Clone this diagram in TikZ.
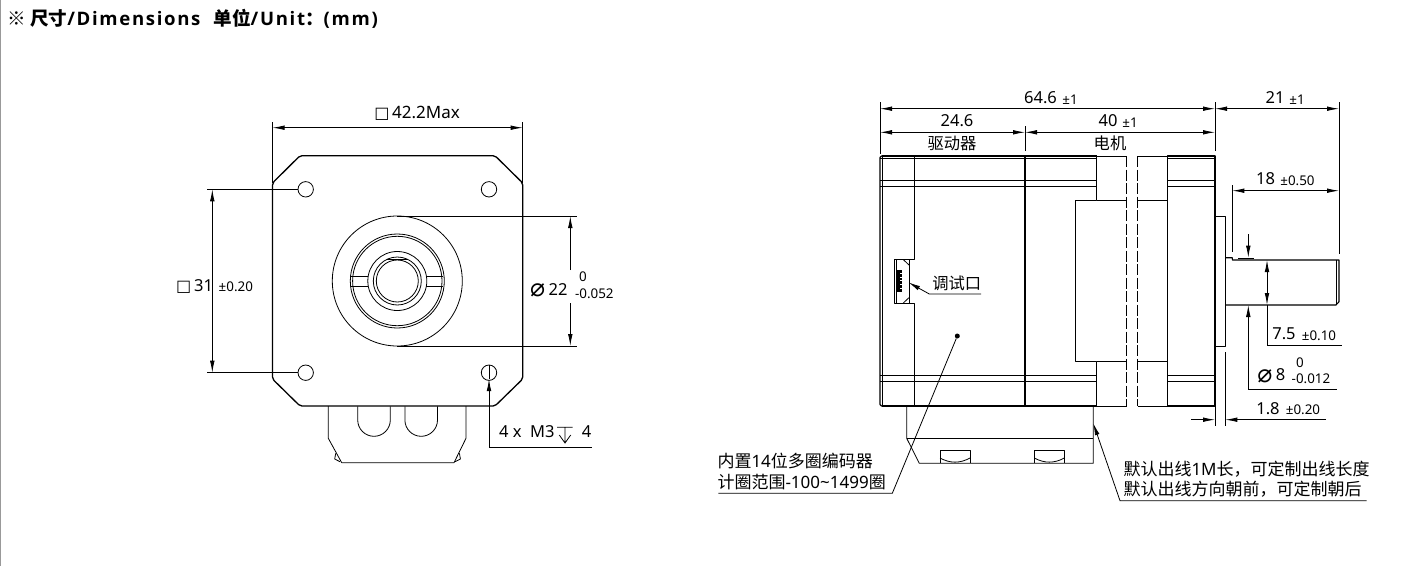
\documentclass[tikz,border=0pt]{standalone}
\usepackage{fontspec}
\setmainfont{Noto Sans}
\newfontfamily\cjk{Noto Sans CJK SC}
\newfontfamily\sym{DejaVu Sans}
\newfontfamily\head[LetterSpace=9]{Open Sans}
\usetikzlibrary{arrows.meta,calc}
\newcommand\lat[1]{{\rmfamily #1}}
\begin{document}
\begin{tikzpicture}[
		x=1pt,y=-1pt,
		part/.style={line width=1.1pt,line join=round},
		thin part/.style={line width=0.8pt,line join=round},
		dimline/.style={line width=0.8pt},
		dimboth/.style={dimline,{Latex[length=12pt,width=4.6pt]}-{Latex[length=12pt,width=4.6pt]}},
		dimend/.style={dimline,-{Latex[length=12pt,width=4.6pt]}},
		every node/.style={inner sep=0pt,font=\fontsize{16.5pt}{18pt}\selectfont},
		tol/.style={font=\fontsize{13.4pt}{15pt}\selectfont},
		han/.style={font=\fontsize{16.3pt}{18pt}\selectfont\cjk},
		note/.style={anchor=west,font=\fontsize{17pt}{18pt}\selectfont\cjk},
		square/.style={font=\fontsize{16pt}{18pt}\selectfont\sym},
		phi/.style={font=\fontsize{25pt}{26pt}\selectfont\sym}
		]
		\useasboundingbox (0,0) rectangle (1409,566);
		\draw[gray!80,line width=1.6pt] (0.5,0) -- (0.5,566);
		% Title
		\node[anchor=west,font=\fontsize{18.6pt}{20pt}\selectfont\head\bfseries] (title) at (7,19) {{\cjk ※ 尺寸}/Dimensions\ \ {\cjk 单位}/Unit{\cjk ：}(mm)};

		% Front view
		\draw[line width=1.3pt,line join=round,rounded corners=2pt] (272.5,183) -- (300,155.7) -- (495,155.7) -- (522.7,183) -- (522.7,379) -- (495,406) -- (300,406) -- (272.5,379) -- cycle;
		\foreach \hx/\hy/\hname in {305.7/189.3/holeA,489/189.3/holeB,305.7/372.7/holeC,489/372.7/holeD}
			\node[draw,circle,line width=0.8pt,minimum size=15.4pt] (\hname) at (\hx,\hy) {};
		\coordinate (hub) at (397.3,281);
		\foreach \r in {65,47,44.7,29.5,24,21}
			\draw[thin part] (hub) circle (\r);
		\draw[thin part] (387,259.5) -- (407.6,259.5);
		\foreach \s in {-1,1} {
			\draw[thin part] ($(hub)+(\s*29,-5)$) -- ($(hub)+(\s*46,-5)$);
			\draw[thin part] ($(hub)+(\s*29,5)$) -- ($(hub)+(\s*46,5)$);
		}
		% Front view, connector
		\draw[thin part] (328.3,406) -- (328.3,438.3) -- (341.7,462.7) -- (454,462.7) -- (466,438.3) -- (466,406);
		\draw[thin part] (335.7,453.3) -- (334.7,459) -- (340,461.7);
		\draw[thin part] (459.4,453.3) -- (460.4,459) -- (455.1,461.7);
		\foreach \ux in {357.7,404.9}
			\draw[thin part] (\ux,406.3) -- (\ux,420) arc[start angle=180,end angle=0,radius=16.3] -- ++(0,-13.7);

		% Front view, dimensions
		\coordinate (wL) at (272.5,127.7);
		\coordinate (wR) at (522.7,127.7);
		\draw[dimline] (272.5,122) -- (272.5,183);
		\draw[dimline] (522.7,122) -- (522.7,183);
		\draw[dimboth] (wL) -- (wR);
		\node[square] (sqW) at (382,114.5) {□};
		\node[anchor=west,font=\fontsize{17pt}{18pt}\selectfont] (wText) at (392,112.5) {42.2Max};

		\coordinate (pitchT) at (212.3,189.3);
		\coordinate (pitchB) at (212.3,372.7);
		\draw[dimline] (207,189.3) -- (holeA.west);
		\draw[dimline] (207,372.7) -- (holeC.west);
		\draw[dimboth] (pitchT) -- (pitchB);
		\node[square] (sqP) at (183.7,287.5) {□};
		\node[anchor=west] (pitchText) at (194,285.5) {31};
		\node[tol,anchor=west] (pitchTol) at (218.5,287) {±0.20};

		\coordinate (dT) at (570.3,216);
		\coordinate (dB) at (570.3,346);
		\coordinate (dGapT) at (570.3,270);
		\coordinate (dGapB) at (570.3,303);
		\draw[dimline] (397.3,216) -- (576.7,216);
		\draw[dimline] (397.3,346) -- (576.7,346);
		\draw[dimend] (dGapT) -- (dT);
		\draw[dimend] (dGapB) -- (dB);
		\node[phi] (phiD) at (537.7,290) {⌀};
		\node (dText) at (558,289.5) {22};
		\node[tol] (dUp) at (583,276.7) {0};
		\node[tol] (dLow) at (594.3,293.3) {-0.052};

		\coordinate (threadEnd) at (591.7,447);
		\draw[dimend] (threadEnd) -- (489,447) -- (489,379);
		\draw[dimline] (holeD.north) -- (489,379);
		\node[anchor=west] (threadText) at (499,432) {4 x\ \ M3};
		\draw[dimline] (557,427.3) -- (572.7,427.3) (565,427.3) -- (565,443) (559.3,435) -- (565,443) -- (570.7,435);
		\node (threadDepth) at (586.7,432) {4};

		% Side view, driver and motor
		\draw[part] (882,156) -- (1096.7,156) (882,406) -- (1096.7,406);
		\draw[part,rounded corners=1.5pt] (882,156) -- (880,156) -- (880,406) -- (882,406);
		\draw[thin part] (882.7,156) -- (882.7,406);
		\draw[thin part] (914,156) -- (914,259.3) -- (894.3,259.3) -- (894.3,303.3) -- (914,303.3) -- (914,406);
		\draw[thin part] (896,260) -- (896,302.5) (909,259.3) -- (909,303.3);
		\draw[thin part] (903,259.3) -- (909,265) (903,303.3) -- (909,297.6);
		\fill (897.3,270) rectangle (899.7,291.7);
		\foreach \cy in {270,273.8,277.6,281.4,285.2,289}
			\fill (899,\cy) rectangle (902,\cy+2.7);
		\draw[part] (1025,156) -- (1025,406);
		\foreach \ly in {158,180,186,375.7,381.7} {
			\draw[thin part] (880,\ly) -- (1096.7,\ly);
			\draw[thin part] (1167.7,\ly) -- (1215,\ly);
		}
		\draw[part] (1096.7,156) -- (1096.7,200.5) -- (1075.7,200.5) -- (1075.7,361.5) -- (1096.7,361.5) -- (1096.7,406);
		\draw[thin part] (1096.7,156) -- (1126.7,156) (1137.7,156) -- (1167.7,156) (1096.7,406) -- (1126.7,406) (1137.7,406) -- (1167.7,406);
		\draw[thin part] (1096.7,200.5) -- (1126.7,200.5) (1137.7,200.5) -- (1167.7,200.5) (1096.7,361.5) -- (1126.7,361.5) (1137.7,361.5) -- (1167.7,361.5);
		\draw[thin part,dash pattern=on 11pt off 2.5pt] (1126.7,156) -- (1126.7,406);
		\draw[thin part,dash pattern=on 11pt off 2.5pt] (1137.7,156) -- (1137.7,406);
		\draw[part] (1167.7,156) -- (1215,156) -- (1215,406) -- (1167.7,406) -- cycle;

		% Side view, flange and shaft
		\draw[thin part] (1215,216) -- (1225.3,216) -- (1225.3,346.3) -- (1215,346.3);
		\draw[part] (1225.3,257.7) -- (1232.3,257.7) -- (1232.3,260) -- (1339,260) -- (1339,301.7) -- (1336,305) -- (1225.3,305);
		\draw[thin part] (1336,260) -- (1336,305);

		% Side view, connector
		\draw[thin part] (906.7,406) -- (906.7,438.3) -- (919.3,463.3) -- (1093.3,463.3) -- (1093.3,406);
		\draw[thin part] (906.7,438.3) -- (1093.3,438.3);
		\foreach \tx in {940,1034.3} {
			\draw[thin part] (\tx,463.3) -- (\tx,450.7) -- ++(30,0) -- ++(0,12.6);
			\draw[thin part] (\tx,458) .. controls ($(\tx,458)+(10,5.5)$) and ($(\tx,458)+(20,5.5)$) .. ($(\tx,458)+(30,0)$);
		}

		% Side view, dimensions
		\coordinate (lenL) at (880,108.7);
		\coordinate (lenM) at (1215,108.7);
		\coordinate (lenR) at (1339,108.7);
		\coordinate (drvL) at (880,132.3);
		\coordinate (drvR) at (1025,132.3);
		\coordinate (motR) at (1215,132.3);
		\draw[dimline] (880,102) -- (880,154);
		\draw[dimline] (1025,126) -- (1025,150.7);
		\draw[dimline] (1215,102) -- (1215,150.7);
		\draw[dimline] (1339,102) -- (1339,254.3);
		\draw[dimline] (1232.3,185) -- (1232.3,251.7);
		\draw[dimboth] (lenL) -- (lenM);
		\draw[dimboth] (lenM) -- (lenR);
		\draw[dimboth] (drvL) -- (drvR);
		\draw[dimboth] (drvR) -- (motR);
		\node (lenText) at (1040.5,97.7) {64.6};
		\node[tol] (lenTol) at (1070,99.5) {±1};
		\node (tipText) at (1275,97.7) {21};
		\node[tol] (tipTol) at (1297,99.5) {±1};
		\node (drvText) at (957,121) {24.6};
		\node[han] (drvName) at (952,143.5) {驱动器};
		\node (motText) at (1108,121) {40};
		\node[tol] (motTol) at (1130,123) {±1};
		\node[han] (motName) at (1110,143.5) {电机};

		\coordinate (shaftL) at (1232.3,190.7);
		\coordinate (shaftR) at (1339,190.7);
		\draw[dimboth] (shaftL) -- (shaftR);
		\node (shaftText) at (1265.5,179) {18};
		\node[tol] (shaftTol) at (1297.5,181) {±0.50};

		\coordinate (flatStart) at (1248.3,234);
		\coordinate (flatTip) at (1248.3,257.7);
		\draw[dimend] (flatStart) -- (flatTip);
		\draw[dimline] (1238.3,258) -- (1254.3,258);

		\coordinate (flatT) at (1267,260);
		\coordinate (flatB) at (1267,305);
		\draw[dimboth] (flatT) -- (flatB);
		\draw[dimline] (flatB) -- (1267,345.3) -- (1341.7,345.3);
		\node (flatText) at (1284,334) {7.5};
		\node[tol] (flatTol) at (1319,335.5) {±0.10};

		\coordinate (shaftEnd) at (1336.7,389.7);
		\coordinate (shaftTip) at (1248.3,305);
		\draw[dimend] (shaftEnd) -- (1248.3,389.7) -- (shaftTip);
		\node[phi] (phiS) at (1265,376) {⌀};
		\node (phiText) at (1280.7,375) {8};
		\node[tol] (phiUp) at (1300,362.7) {0};
		\node[tol] (phiLow) at (1311,379) {-0.012};

		\draw[dimline] (1215,352) -- (1215,425.7);
		\draw[dimline] (1225.3,352) -- (1225.3,425.7);
		\coordinate (gapL) at (1191,419.7);
		\coordinate (gapA) at (1215,419.7);
		\coordinate (gapB) at (1225.3,419.7);
		\coordinate (gapR) at (1326,419.7);
		\draw[dimend] (gapL) -- (gapA);
		\draw[dimend] (gapR) -- (gapB);
		\node (gapText) at (1268,408.3) {1.8};
		\node[tol] (gapTol) at (1303,410) {±0.20};

		% Callouts
		\node[han] (portText) at (956.7,283) {调试口};
		\coordinate (portA) at (981,294);
		\coordinate (portB) at (929.3,294);
		\coordinate (portTip) at (908.3,282.3);
		\draw[dimend] (portA) -- (portB) -- (portTip);

		\node[circle,fill=black,minimum size=5pt] (encDot) at (957.3,336) {};
		\coordinate (encA) at (892.3,493.3);
		\coordinate (encB) at (718.3,493.3);
		\draw[dimline] (encDot) -- (encA) -- (encB);
		\node[note] (encOne) at (717.3,461) {内置\lat{14}位多圈编码器};
		\node[note] (encTwo) at (717.3,482.3) {计圈范围\lat{-100\textasciitilde1499}圈};

		\coordinate (leadTip) at (1093.3,423.3);
		\coordinate (leadA) at (1120,500.7);
		\coordinate (leadB) at (1366.7,500.7);
		\draw[dimend] (leadB) -- (leadA) -- (leadTip);
		\node[note] (leadOne) at (1123.3,469) {默认出线\lat{1M}长，可定制出线长度};
		\node[note] (leadTwo) at (1123.3,489.3) {默认出线方向朝前，可定制朝后};
	\end{tikzpicture}
\end{document}
